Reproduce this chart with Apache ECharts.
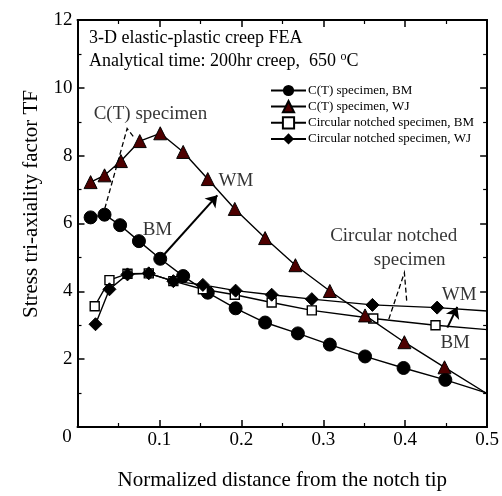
<!DOCTYPE html>
<html><head><meta charset="utf-8">
<script src="https://cdn.jsdelivr.net/npm/echarts@6/dist/echarts.min.js"></script>
<style>html,body{margin:0;padding:0;background:#fff}#c{width:502px;height:496px}</style>
</head><body><div id="c"></div>
<script>
// ---- data ----
const xTickLabels = ['0', '0.1', '0.2', '0.3', '0.4', '0.5'];
const yTickLabels = ['0', '2', '4', '6', '8', '10', '12'];
const seriesNames = ['C(T) specimen, BM', 'C(T) specimen, WJ', 'Circular notched specimen, BM', 'Circular notched specimen, WJ'];
const ctBM = [[0.016,6.18],[0.033,6.26],[0.052,5.95],[0.075,5.48],[0.101,4.96],[0.129,4.45],[0.159,3.96],[0.193,3.50],[0.229,3.08],[0.269,2.76],[0.308,2.43],[0.351,2.08],[0.398,1.74],[0.449,1.39],[0.5,1.0]];
const ctWJ = [[0.016,7.22],[0.033,7.42],[0.053,7.84],[0.076,8.43],[0.101,8.66],[0.129,8.11],[0.159,7.31],[0.192,6.43],[0.229,5.57],[0.266,4.77],[0.308,4.01],[0.351,3.29],[0.399,2.50],[0.448,1.76],[0.5,0.98]];
const cnBM = [[0.021,3.56],[0.039,4.33],[0.061,4.52],[0.087,4.53],[0.117,4.30],[0.153,4.06],[0.192,3.90],[0.237,3.67],[0.286,3.44],[0.361,3.20],[0.437,3.00],[0.5,2.87]];
const cnWJ = [[0.022,3.03],[0.039,4.06],[0.061,4.50],[0.087,4.53],[0.117,4.30],[0.153,4.19],[0.193,4.02],[0.237,3.90],[0.286,3.77],[0.360,3.60],[0.439,3.52],[0.5,3.42]];
// annotation arrows / guide lines (data coordinates)
const arrowLeft = [[0.101,4.96],[0.1707,6.83]];
const arrowRight = [[0.4515,2.93],[0.4636,3.54]];
const dashCT = [[0.0333,6.44],[0.0606,8.80],[0.068,8.57]];
const dashCN = [[0.380,3.18],[0.399,4.55],[0.402,3.67]];
const annoLabels = [
  {value:[0.089,9.22], name:'C(T) specimen'},
  {value:[0.0976,5.81], name:'BM'},
  {value:[0.1933,7.24], name:'WM'},
  {value:[0.386,5.62], name:'Circular notched'},
  {value:[0.4055,4.92], name:'specimen'},
  {value:[0.466,3.89], name:'WM'},
  {value:[0.461,2.49], name:'BM'}
];
const titleLine1 = '3-D elastic-plastic creep FEA';
const titleLine2 = 'Analytical time: 200hr creep,  650 ';
const xName = 'Normalized distance from the notch tip';
const yName = 'Stress tri-axiality factor TF';

const FONT = '"Liberation Serif", "Times New Roman", serif';
const chart = echarts.init(document.getElementById('c'), null, {renderer:'canvas'});

function endless(arr){ // hide marker at last point (line ends at the frame)
  return arr.map((p,i)=> i===arr.length-1 ? {value:p, symbol:'none'} : p);
}
const baseAxis = {
  axisLine:{show:true, onZero:false, lineStyle:{color:'#000', width:2}},
  axisTick:{show:true, inside:true, length:7, lineStyle:{color:'#000', width:1.5}},
  minorTick:{show:true, splitNumber:2, length:4, lineStyle:{color:'#000', width:1.2}},
  splitLine:{show:false}
};
const xFmt = v => { const i = Math.round(v*10); return i===0 ? '' : xTickLabels[i]; };
const yFmt = v => { const i = Math.round(v/2); return i===0 ? '' : yTickLabels[i]; };

const option = {
  animation:false,
  backgroundColor:'#fff',
  textStyle:{fontFamily:FONT},
  grid:{left:77.5, right:12.5, top:20, bottom:66, containLabel:false},
  xAxis:[
    Object.assign({}, baseAxis, {type:'value', min:0, max:0.5, interval:0.1, position:'bottom',
      axisLabel:{formatter:xFmt, color:'#000', fontSize:19, fontFamily:FONT, margin:4},
      name:xName, nameLocation:'middle', nameGap:43, nameTextStyle:{color:'#000', fontSize:21, fontFamily:FONT}}),
    Object.assign({}, baseAxis, {type:'value', min:0, max:0.5, interval:0.1, position:'top', axisLabel:{show:false}})
  ],
  yAxis:[
    Object.assign({}, baseAxis, {type:'value', min:0, max:12, interval:2, position:'left',
      axisLabel:{formatter:yFmt, color:'#000', fontSize:19, fontFamily:FONT, margin:5}}),
    Object.assign({}, baseAxis, {type:'value', min:0, max:12, interval:2, position:'right', axisLabel:{show:false}})
  ],
  legend:{
    orient:'vertical', left:265, top:79, itemWidth:35, itemHeight:14, itemGap:3,
    data:seriesNames,
    textStyle:{color:'#000', fontSize:13, fontFamily:FONT, padding:[0,0,0,-3]}
  },
  graphic:[
    {type:'text', left:89, top:29, style:{text:titleLine1, font:'18px '+FONT, fill:'#000'}},
    {type:'text', left:89, top:51, style:{
      text:titleLine2 + '{sup|o}C', font:'18px '+FONT, fill:'#000',
      rich:{sup:{fontSize:12, fontFamily:FONT, fill:'#000', verticalAlign:'top', padding:[0,0,8,0]}}
    }},
    {type:'text', x:67, y:437, style:{text:yTickLabels[0], font:'19px '+FONT, fill:'#000', textAlign:'center', textVerticalAlign:'middle'}},
    {type:'text', x:31, y:204, rotation:Math.PI/2, style:{text:yName, font:'21px '+FONT, fill:'#000', textAlign:'center', textVerticalAlign:'middle'}}
  ],
  series:[
    {name:seriesNames[0], type:'line', data:endless(ctBM), symbol:'circle', symbolSize:13,
      itemStyle:{color:'#000', borderColor:'#000'}, lineStyle:{color:'#000', width:1.4}, z:3},
    {name:seriesNames[1], type:'line', data:endless(ctWJ), symbol:'triangle', symbolSize:13,
      itemStyle:{color:'#4d0000', borderColor:'#000', borderWidth:1}, lineStyle:{color:'#000', width:1.4}, z:4},
    {name:seriesNames[2], type:'line', data:endless(cnBM), symbol:'rect', symbolSize:9,
      itemStyle:{color:'#fff', borderColor:'#000', borderWidth:1.4}, lineStyle:{color:'#000', width:1.4}, z:3},
    {name:seriesNames[3], type:'line', data:endless(cnWJ), symbol:'diamond', symbolSize:13,
      itemStyle:{color:'#000', borderColor:'#000'}, lineStyle:{color:'#000', width:1.4}, z:4},
    {type:'lines', coordinateSystem:'cartesian2d', silent:true, z:5,
      symbol:['none','arrow'], symbolSize:[0,11],
      lineStyle:{color:'#000', width:2, opacity:1},
      data:[{coords:arrowLeft},{coords:arrowRight}]},
    {type:'lines', coordinateSystem:'cartesian2d', polyline:true, silent:true, z:5,
      lineStyle:{color:'#000', width:1.3, type:[5,3], opacity:1},
      data:[{coords:dashCT},{coords:dashCN}]},
    {type:'scatter', silent:true, symbol:'circle', symbolSize:1, z:6,
      itemStyle:{color:'rgba(0,0,0,0)'},
      label:{show:true, position:'inside', formatter:p=>p.name, color:'#000', fontSize:19, fontFamily:FONT},
      data:annoLabels}
  ]
};
chart.setOption(option);
</script></body></html>
